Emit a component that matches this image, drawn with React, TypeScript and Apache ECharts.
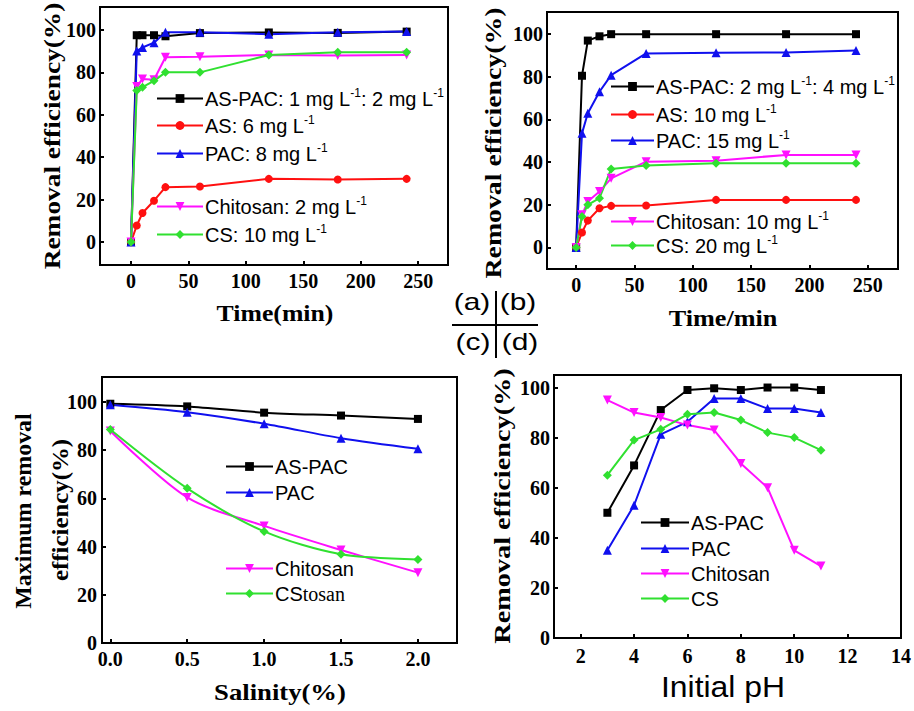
import React, { useEffect, useRef } from "react";
import * as echarts from "echarts";

// ---------- data ----------
const TIME = [0, 5, 10, 20, 30, 60, 120, 180, 240];
const A_ASPAC = [0, 97.5, 97.5, 97.5, 97, 98.5, 98.8, 98.6, 99.2];
const A_AS = [0, 7.8, 13.7, 19.5, 25.9, 26.2, 29.8, 29.5, 29.8];
const A_PAC = [0, 90.1, 91.7, 94, 98.9, 98.9, 98, 98.9, 99.2];
const A_CHI = [0, 73.3, 76.9, 76.5, 87.1, 87.4, 88.2, 87.9, 88.2];
const A_CS = [0, 71.4, 73, 76, 80, 80, 88.2, 89.5, 89.5];

const B_ASPAC = [0, 80.5, 97, 99, 100, 100, 100, 100, 100];
const B_AS = [0, 7, 12.6, 18.4, 19.5, 19.7, 22.3, 22.3, 22.3];
const B_PAC = [0, 53.5, 62.9, 73, 80.8, 91, 91.3, 91.4, 92.3];
const B_CHI = [0, 15.3, 21.5, 26.2, 32.4, 40.2, 40.7, 43.4, 43.4];
const B_CS = [0, 14.5, 20, 23.1, 36.8, 38.4, 39.5, 39.5, 39.5];

const SALINITY = [0, 0.5, 1.0, 1.5, 2.0];
const C_ASPAC = [99.3, 98.2, 95.6, 94.4, 93];
const C_PAC = [98.9, 95.8, 91, 85, 80.6];
const C_CHI = [88, 60.4, 48.6, 38.6, 29.2];
const C_CS = [88.6, 64.2, 46.3, 36.8, 34.7];

const PH = [3, 4, 5, 6, 7, 8, 9, 10, 11];
const D_ASPAC = [50, 68.9, 91, 99, 99.7, 99, 100, 100, 99];
const D_PAC = [35, 53, 81.3, 86.3, 95.6, 95.6, 91.6, 91.6, 90];
const D_CHI = [95, 90, 88, 85, 83, 69.7, 60, 35, 28.7];
const D_CS = [65, 79, 83.3, 89.3, 90, 87, 82, 80, 75];

const TIME_TICKS = [0, 50, 100, 150, 200, 250];
const EFF_TICKS = [0, 20, 40, 60, 80, 100];
const SAL_TICKS = [0, 0.5, 1.0, 1.5, 2.0];
const PH_TICKS = [2, 4, 6, 8, 10, 12, 14];

const A_NAMES = [
  "AS-PAC: 1 mg L⁻¹: 2 mg L⁻¹",
  "AS: 6 mg L⁻¹",
  "PAC: 8 mg L⁻¹",
  "Chitosan: 2 mg L⁻¹",
  "CS: 10 mg L⁻¹",
];
const B_NAMES = [
  "AS-PAC: 2 mg L⁻¹: 4 mg L⁻¹",
  "AS: 10 mg L⁻¹",
  "PAC: 15 mg L⁻¹",
  "Chitosan: 10 mg L⁻¹",
  "CS: 20 mg L⁻¹",
];
const C_NAMES = ["AS-PAC", "PAC", "Chitosan", "CStosan"];
const D_NAMES = ["AS-PAC", "PAC", "Chitosan", "CS"];

// ---------- styles ----------
const SERIF = '"Liberation Serif", "Times New Roman", serif';
const SANS = '"Liberation Sans", Arial, sans-serif';
const BLACK = "#000000";
const RED = "#ff1010";
const BLUE = "#1010ee";
const MAGENTA = "#ff10ff";
const GREEN = "#30e030";

type Sty = { color: string; symbol: string; size: number; rotate?: number };
const S_ASPAC: Sty = { color: BLACK, symbol: "rect", size: 8 };
const S_AS: Sty = { color: RED, symbol: "circle", size: 8 };
const S_PAC: Sty = { color: BLUE, symbol: "triangle", size: 9 };
const S_CHI: Sty = { color: MAGENTA, symbol: "triangle", size: 9, rotate: 180 };
const S_CS: Sty = { color: GREEN, symbol: "diamond", size: 9 };

function pairs(xs: number[], ys: number[]) {
  return xs.map((x, i) => [x, ys[i]]);
}

function line(name: string, gi: number, xs: number[], ys: number[], s: Sty, smooth: number | boolean = false) {
  return {
    type: "line",
    name,
    xAxisIndex: gi,
    yAxisIndex: gi,
    data: pairs(xs, ys),
    symbol: s.symbol,
    symbolSize: s.size,
    symbolRotate: s.rotate || 0,
    smooth,
    lineStyle: { color: s.color, width: 2 },
    itemStyle: { color: s.color },
    emphasis: { disabled: true },
  };
}

const tickLabel = { fontFamily: SERIF, fontWeight: "bold", fontSize: 20, color: "#000" };

function valueAxis(gi: number, min: number, max: number, ticks: number[], margin: number, fmt?: (v: number) => string) {
  return {
    type: "value",
    gridIndex: gi,
    min,
    max,
    splitLine: { show: false },
    axisLine: { show: true, onZero: false, lineStyle: { color: "#000", width: 2 } },
    axisTick: { show: true, inside: true, length: 4, customValues: ticks, lineStyle: { color: "#000", width: 2 } },
    axisLabel: { ...tickLabel, margin, customValues: ticks, formatter: fmt ? fmt : (v: number) => String(v) },
  };
}

function legendFmt(name: string) {
  if (name === "CStosan") return "CS{t|tosan}";
  return name.replace(/⁻¹/g, "{s|-1}");
}

function legendItem(name: string, left: number, cy: number, iw: number) {
  return {
    data: [name],
    left,
    top: cy - 5.5,
    padding: 0,
    itemWidth: iw,
    itemHeight: 11,
    selectedMode: false,
    formatter: legendFmt,
    textStyle: {
      fontFamily: SANS,
      fontSize: 20,
      lineHeight: 24,
      color: "#000",
      padding: [0, 0, 0, -3],
      rich: {
        s: { fontFamily: SANS, fontSize: 12, lineHeight: 13, verticalAlign: "top", color: "#000" },
        t: { fontFamily: SERIF, fontSize: 20, lineHeight: 24, color: "#000" },
      },
    },
  };
}

function ytitle(text: string, x: number, y: number, sx: number, size = 23) {
  return {
    type: "text",
    x,
    y,
    rotation: Math.PI / 2,
    scaleX: sx,
    style: { text, font: `bold ${size}px ${SERIF}`, fill: "#000", align: "center", verticalAlign: "middle" },
  };
}

function xtitle(text: string, x: number, y: number, sx: number, font = `bold 23px ${SERIF}`) {
  return {
    type: "text",
    x,
    y,
    scaleX: sx,
    style: { text, font, fill: "#000", align: "center", verticalAlign: "middle" },
  };
}

function plainText(text: string, x: number, y: number) {
  return {
    type: "text",
    x,
    y,
    scaleX: 1.3,
    style: { text, font: `23px ${SANS}`, fill: "#000", align: "center", verticalAlign: "middle" },
  };
}

export default function App() {
  const ref = useRef<HTMLDivElement>(null);
  useEffect(() => {
    if (!ref.current) return;
    const chart = echarts.init(ref.current, null, { renderer: "svg" });
    const gridStyle = { show: true, borderColor: "#000", borderWidth: 2, backgroundColor: "transparent", containLabel: false };
    const option = {
      animation: false,
      backgroundColor: "#fff",
      grid: [
        { ...gridStyle, left: 100, top: 7, width: 348, height: 258 },
        { ...gridStyle, left: 547, top: 12, width: 351, height: 257 },
        { ...gridStyle, left: 102, top: 377, width: 355, height: 266 },
        { ...gridStyle, left: 554, top: 375, width: 349, height: 263 },
      ],
      xAxis: [
        valueAxis(0, -27, 276, TIME_TICKS, 6),
        valueAxis(1, -25, 276, TIME_TICKS, 6),
        valueAxis(2, -0.054, 2.254, SAL_TICKS, 6, (v: number) => v.toFixed(1)),
        valueAxis(3, 1, 14, PH_TICKS, 8),
      ],
      yAxis: [
        valueAxis(0, -10.8, 110.8, EFF_TICKS, 4),
        valueAxis(1, -10.1, 110.4, EFF_TICKS, 4),
        valueAxis(2, 0, 110.4, EFF_TICKS, 5),
        valueAxis(3, 0, 105, EFF_TICKS, 4),
      ],
      legend: [
        legendItem(A_NAMES[0], 156, 92, 46),
        legendItem(A_NAMES[1], 156, 119, 46),
        legendItem(A_NAMES[2], 156, 147, 46),
        legendItem(A_NAMES[3], 156, 200, 46),
        legendItem(A_NAMES[4], 156, 228, 46),
        legendItem(B_NAMES[0], 610, 80, 43),
        legendItem(B_NAMES[1], 610, 108, 43),
        legendItem(B_NAMES[2], 610, 134, 43),
        legendItem(B_NAMES[3], 610, 215, 43),
        legendItem(B_NAMES[4], 610, 239, 43),
        legendItem(C_NAMES[0], 225, 460, 47),
        legendItem(C_NAMES[1], 225, 486, 47),
        legendItem(C_NAMES[2], 225, 562, 47),
        legendItem(C_NAMES[3], 225, 587, 47),
        legendItem(D_NAMES[0], 640, 516, 48),
        legendItem(D_NAMES[1], 640, 542, 48),
        legendItem(D_NAMES[2], 640, 567, 48),
        legendItem(D_NAMES[3], 640, 592, 48),
      ],
      series: [
        line(A_NAMES[0], 0, TIME, A_ASPAC, S_ASPAC),
        line(A_NAMES[1], 0, TIME, A_AS, S_AS),
        line(A_NAMES[2], 0, TIME, A_PAC, S_PAC),
        line(A_NAMES[3], 0, TIME, A_CHI, S_CHI),
        line(A_NAMES[4], 0, TIME, A_CS, S_CS),
        line(B_NAMES[0], 1, TIME, B_ASPAC, S_ASPAC),
        line(B_NAMES[1], 1, TIME, B_AS, S_AS),
        line(B_NAMES[2], 1, TIME, B_PAC, S_PAC),
        line(B_NAMES[3], 1, TIME, B_CHI, S_CHI),
        line(B_NAMES[4], 1, TIME, B_CS, S_CS),
        line(C_NAMES[0], 2, SALINITY, C_ASPAC, S_ASPAC, 0.3),
        line(C_NAMES[1], 2, SALINITY, C_PAC, S_PAC, 0.3),
        line(C_NAMES[2], 2, SALINITY, C_CHI, S_CHI, 0.3),
        line(C_NAMES[3], 2, SALINITY, C_CS, S_CS, 0.3),
        line(D_NAMES[0], 3, PH, D_ASPAC, S_ASPAC),
        line(D_NAMES[1], 3, PH, D_PAC, S_PAC),
        line(D_NAMES[2], 3, PH, D_CHI, S_CHI),
        line(D_NAMES[3], 3, PH, D_CS, S_CS),
      ],
      graphic: [
        ytitle("Removal efficiency(%)", 52, 136, 1.19),
        xtitle("Time(min)", 275, 313, 1.12),
        ytitle("Removal efficiency(%)", 493, 143, 1.21),
        xtitle("Time/min", 723, 318, 1.14),
        ytitle("Maximum removal", 23, 511, 1.04),
        ytitle("efficiency(%)", 60, 510, 1.08),
        xtitle("Salinity(%)", 280, 692, 1.16),
        ytitle("Removal efficiency(%)", 502, 506, 1.23),
        xtitle("Initial pH", 723, 687, 1.1, `29px ${SANS}`),
        plainText("(a)", 472, 302),
        plainText("(b)", 518, 302),
        plainText("(c)", 473, 342),
        plainText("(d)", 520, 342),
        { type: "line", shape: { x1: 496, y1: 291, x2: 496, y2: 358 }, style: { stroke: "#000", lineWidth: 2 } },
        { type: "line", shape: { x1: 452, y1: 325, x2: 538, y2: 325 }, style: { stroke: "#000", lineWidth: 2 } },
      ],
    };
    chart.setOption(option as any);
    return () => chart.dispose();
  }, []);
  return (
    <div
      ref={ref}
      style={{ position: "absolute", left: 0, top: 0, width: 914, height: 711, background: "#fff" }}
    />
  );
}
